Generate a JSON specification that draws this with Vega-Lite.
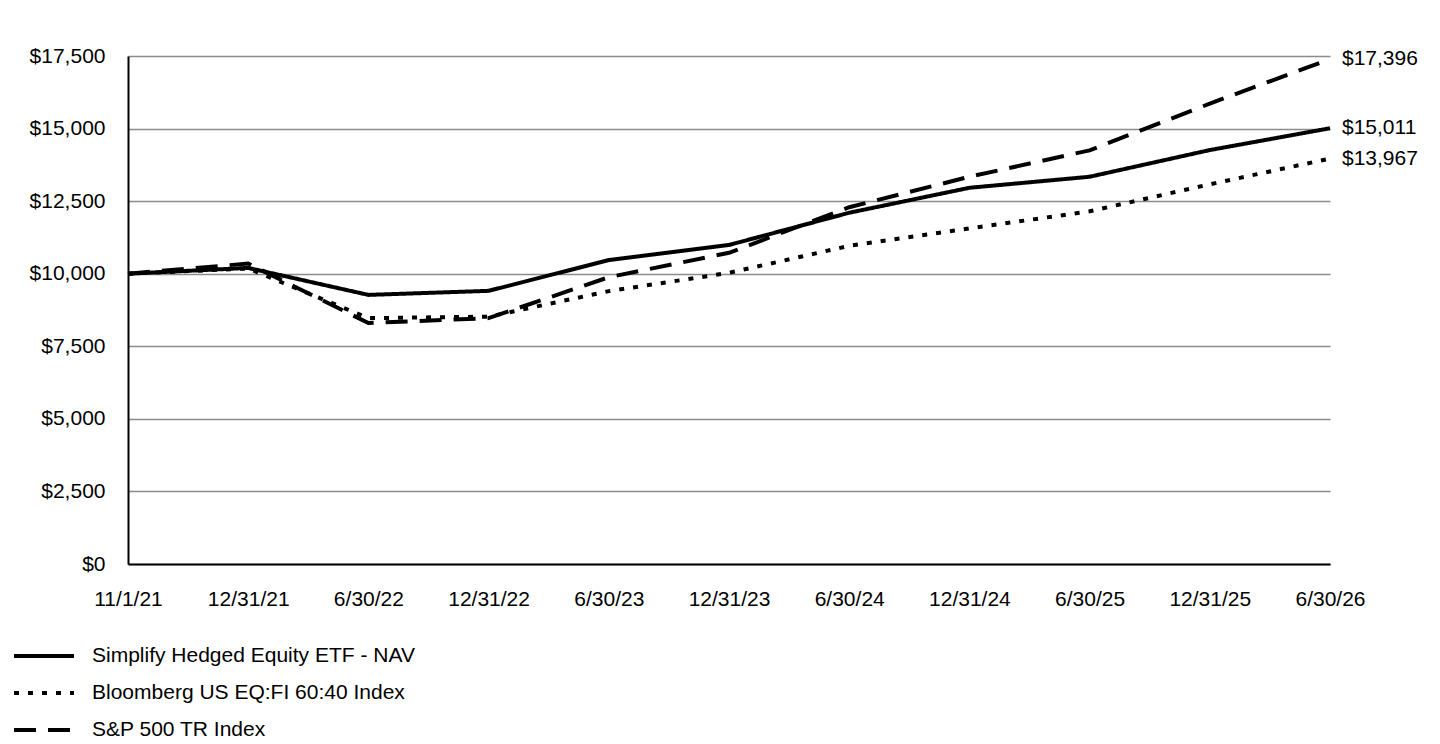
{
  "$schema": "https://vega.github.io/schema/vega-lite/v6.json",
  "width": 1202,
  "height": 508,
  "autosize": {"type": "none"},
  "padding": {"left": 128, "top": 56, "right": 110, "bottom": 180},
  "background": "white",
  "config": {
    "font": "Liberation Sans",
    "view": {"stroke": null},
    "axis": {"labelFont": "Liberation Sans", "labelFontSize": 21, "labelColor": "black", "ticks": false, "title": null}
  },
  "data": {
    "values": [
      {"date": "11/1/21", "series": "Simplify Hedged Equity ETF - NAV", "value": 10000},
      {"date": "12/31/21", "series": "Simplify Hedged Equity ETF - NAV", "value": 10200},
      {"date": "6/30/22", "series": "Simplify Hedged Equity ETF - NAV", "value": 9270},
      {"date": "12/31/22", "series": "Simplify Hedged Equity ETF - NAV", "value": 9410},
      {"date": "6/30/23", "series": "Simplify Hedged Equity ETF - NAV", "value": 10470},
      {"date": "12/31/23", "series": "Simplify Hedged Equity ETF - NAV", "value": 10990},
      {"date": "6/30/24", "series": "Simplify Hedged Equity ETF - NAV", "value": 12100},
      {"date": "12/31/24", "series": "Simplify Hedged Equity ETF - NAV", "value": 12960},
      {"date": "6/30/25", "series": "Simplify Hedged Equity ETF - NAV", "value": 13340},
      {"date": "12/31/25", "series": "Simplify Hedged Equity ETF - NAV", "value": 14260},
      {"date": "6/30/26", "series": "Simplify Hedged Equity ETF - NAV", "value": 15011},
      {"date": "11/1/21", "series": "Bloomberg US EQ:FI 60:40 Index", "value": 10000},
      {"date": "12/31/21", "series": "Bloomberg US EQ:FI 60:40 Index", "value": 10180},
      {"date": "6/30/22", "series": "Bloomberg US EQ:FI 60:40 Index", "value": 8470},
      {"date": "12/31/22", "series": "Bloomberg US EQ:FI 60:40 Index", "value": 8520},
      {"date": "6/30/23", "series": "Bloomberg US EQ:FI 60:40 Index", "value": 9400},
      {"date": "12/31/23", "series": "Bloomberg US EQ:FI 60:40 Index", "value": 10030},
      {"date": "6/30/24", "series": "Bloomberg US EQ:FI 60:40 Index", "value": 10960},
      {"date": "12/31/24", "series": "Bloomberg US EQ:FI 60:40 Index", "value": 11560},
      {"date": "6/30/25", "series": "Bloomberg US EQ:FI 60:40 Index", "value": 12150},
      {"date": "12/31/25", "series": "Bloomberg US EQ:FI 60:40 Index", "value": 13080},
      {"date": "6/30/26", "series": "Bloomberg US EQ:FI 60:40 Index", "value": 13967},
      {"date": "11/1/21", "series": "S&P 500 TR Index", "value": 10000},
      {"date": "12/31/21", "series": "S&P 500 TR Index", "value": 10350},
      {"date": "6/30/22", "series": "S&P 500 TR Index", "value": 8300},
      {"date": "12/31/22", "series": "S&P 500 TR Index", "value": 8470},
      {"date": "6/30/23", "series": "S&P 500 TR Index", "value": 9880},
      {"date": "12/31/23", "series": "S&P 500 TR Index", "value": 10720},
      {"date": "6/30/24", "series": "S&P 500 TR Index", "value": 12290},
      {"date": "12/31/24", "series": "S&P 500 TR Index", "value": 13340},
      {"date": "6/30/25", "series": "S&P 500 TR Index", "value": 14250},
      {"date": "12/31/25", "series": "S&P 500 TR Index", "value": 15860},
      {"date": "6/30/26", "series": "S&P 500 TR Index", "value": 17396}
    ]
  },
  "encoding": {
    "x": {
      "field": "date",
      "type": "ordinal",
      "sort": null,
      "scale": {"type": "point", "padding": 0},
      "axis": {"labelAngle": 0, "labelPadding": 24, "domainColor": "black", "domainWidth": 2, "grid": false}
    },
    "y": {
      "field": "value",
      "type": "quantitative",
      "scale": {"domain": [0, 17500], "nice": false},
      "axis": {
        "values": [0, 2500, 5000, 7500, 10000, 12500, 15000, 17500],
        "format": "$,.0f",
        "labelPadding": 23,
        "domainColor": "black",
        "domainWidth": 2,
        "gridColor": "#8c8c8c",
        "gridWidth": 1.5
      }
    }
  },
  "layer": [
    {
      "mark": {"type": "line", "color": "black", "strokeWidth": 4, "strokeCap": "butt"},
      "encoding": {
        "strokeDash": {
          "field": "series",
          "type": "nominal",
          "scale": {
            "domain": ["Simplify Hedged Equity ETF - NAV", "Bloomberg US EQ:FI 60:40 Index", "S&P 500 TR Index"],
            "range": [[1, 0], [5, 9], [22, 12]]
          },
          "legend": {
            "title": null,
            "orient": "none",
            "legendX": -96,
            "legendY": 588,
            "direction": "vertical",
            "symbolType": "M-3,0H3",
            "symbolSize": 400,
            "symbolStrokeWidth": 4,
            "symbolStrokeColor": "black",
            "symbolFillColor": "transparent",
            "labelFontSize": 21,
            "labelColor": "black",
            "labelOffset": 36,
            "rowPadding": 15,
            "labelLimit": 600
          }
        }
      }
    },
    {
      "transform": [{"filter": "datum.date === '6/30/26'"}],
      "mark": {"type": "text", "align": "left", "dx": 12, "fontSize": 21, "color": "black"},
      "encoding": {
        "text": {"field": "value", "type": "quantitative", "format": "$,.0f"}
      }
    }
  ]
}
